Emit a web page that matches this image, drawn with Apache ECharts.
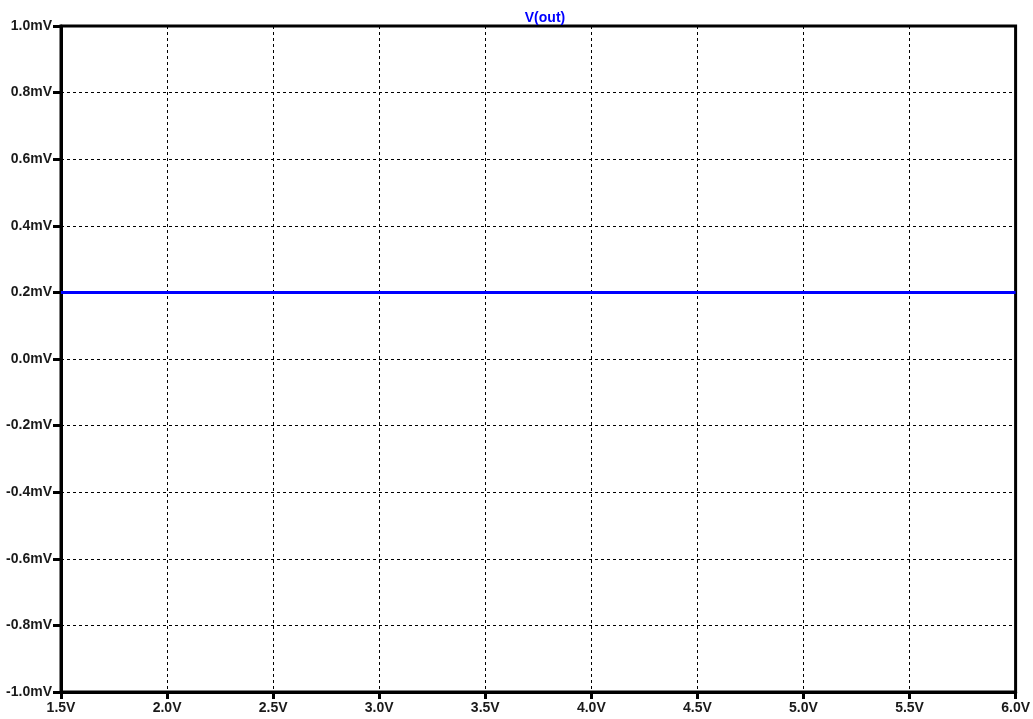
<!DOCTYPE html>
<html>
<head>
<meta charset="utf-8">
<script src="https://cdn.jsdelivr.net/npm/echarts@6/dist/echarts.min.js"></script>
<style>
  html, body { margin: 0; padding: 0; background: #fff; }
  #chart { width: 1033px; height: 719px; }
</style>
</head>
<body>
<div id="chart"></div>
<script>
// Sweep voltage (V) and the output voltage V(out) (mV)
const sweepV = [1.5, 2.0, 2.5, 3.0, 3.5, 4.0, 4.5, 5.0, 5.5, 6.0];
const voutMv = [0.2, 0.2, 0.2, 0.2, 0.2, 0.2, 0.2, 0.2, 0.2, 0.2];
const seriesName = 'V(out)';

const chart = echarts.init(document.getElementById('chart'), null, { renderer: 'canvas' });
const labelFont = { color: '#1a1a1a', fontWeight: 'bold', fontSize: 14, fontFamily: 'Liberation Sans, Arial, sans-serif' };

chart.setOption({
  animation: false,
  backgroundColor: '#fff',
  title: {
    text: seriesName,
    left: 540, textAlign: 'center', top: 6,
    textStyle: { color: '#0000ff', fontWeight: 'bold', fontSize: 14, fontFamily: 'Liberation Sans, Arial, sans-serif' }
  },
  grid: {
    left: 61, right: 13, top: 26, bottom: 27,
    show: true, borderColor: '#000', borderWidth: 3, backgroundColor: '#fff'
  },
  xAxis: {
    type: 'value', min: 1.5, max: 6.0, interval: 0.5,
    axisLine: { show: true, onZero: false, lineStyle: { color: '#000', width: 3 } },
    axisTick: { show: true, length: 7, lineStyle: { color: '#000', width: 3 } },
    axisLabel: Object.assign({ margin: 9, formatter: v => v.toFixed(1) + 'V' }, labelFont),
    splitLine: { show: true, lineStyle: { color: '#000', width: 1, type: [3, 3] } }
  },
  yAxis: {
    type: 'value', min: -1.0, max: 1.0, interval: 0.2,
    axisLine: { show: true, onZero: false, lineStyle: { color: '#000', width: 3 } },
    axisTick: { show: true, length: 8, lineStyle: { color: '#000', width: 3 } },
    axisLabel: Object.assign({ margin: 9, formatter: v => v.toFixed(1) + 'mV' }, labelFont),
    splitLine: { show: true, lineStyle: { color: '#000', width: 1, type: [3, 3] } }
  },
  series: [{
    name: seriesName,
    type: 'line',
    data: sweepV.map((x, i) => [x, voutMv[i]]),
    showSymbol: false,
    lineStyle: { color: '#0000ff', width: 3 },
    z: 5
  }]
});
</script>
</body>
</html>
